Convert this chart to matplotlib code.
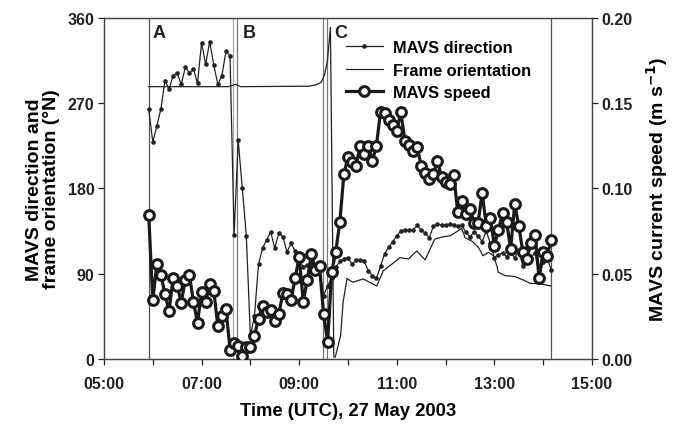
import numpy as np
import pandas as pd
import matplotlib
matplotlib.use("Agg")
import matplotlib.pyplot as plt
import matplotlib.dates as mdates
import matplotlib.lines as mlines

plt.rcParams['font.family'] = ['Liberation Sans', 'DejaVu Sans']
plt.rcParams['font.weight'] = 'bold'

day = pd.Timestamp('2003-05-27')

# MAVS samples every 5 min from 05:55 to 14:10 UTC
mavs_start = '2003-05-27 05:55'
mavs_direction = [
    264, 229, 246, 264, 294, 285, 299, 302, 290, 308,
    302, 306, 291, 334, 311, 335, 310, 290, 299, 325,
    320, 131, 231, 181, 130, 25, 45, 100, 117, 126,
    134, 117, 133, 129, 113, 122, 114, 106, 97, 99,
    101, 99, 95, 67, 77, 86, 97, 103, 106, 107,
    100, 104, 105, 103, 93, 88, 85, 98, 111, 118,
    124, 130, 135, 136, 136, 136, 141, 136, 133, 128,
    140, 143, 141, 141, 142, 141, 140, 141, 134, 129,
    134, 130, 124, 135, 122, 107, 110, 112, 108, 112,
    107, 114, 98, 110, 107, 112, 88, 102, 106, 94,
]
mavs_speed = [
    0.0845, 0.0344, 0.0557, 0.0494, 0.0381, 0.0280, 0.0473, 0.0430, 0.0330, 0.0463,
    0.0493, 0.0334, 0.0213, 0.0391, 0.0332, 0.0440, 0.0401, 0.0192, 0.0254, 0.0293,
    0.0055, 0.0094, 0.0078, 0.0016, 0.0072, 0.0072, 0.0137, 0.0235, 0.0310, 0.0278,
    0.0290, 0.0225, 0.0264, 0.0389, 0.0379, 0.0348, 0.0473, 0.0598, 0.0337, 0.0464,
    0.0614, 0.0522, 0.0545, 0.0264, 0.0101, 0.0512, 0.0629, 0.0805, 0.1085, 0.1183,
    0.1154, 0.1134, 0.1251, 0.1202, 0.1251, 0.1163, 0.1251, 0.1450, 0.1443, 0.1402,
    0.1374, 0.1339, 0.1447, 0.1280, 0.1257, 0.1222, 0.1245, 0.1134, 0.1089, 0.1056,
    0.1085, 0.1163, 0.1065, 0.1036, 0.1026, 0.1079, 0.0860, 0.0925, 0.0850, 0.0880,
    0.0800, 0.0800, 0.0974, 0.0782, 0.0825, 0.0665, 0.0757, 0.0856, 0.0805, 0.0645,
    0.0909, 0.0782, 0.0626, 0.0587, 0.0680, 0.0729, 0.0473, 0.0629, 0.0606, 0.0700,
]

# frame orientation (hours UTC, degrees)
frame_hours = [5.917, 7.55, 7.70, 7.80, 9.20, 9.35, 9.45, 9.52, 9.58, 9.64,
               9.71, 9.74, 9.85, 9.90, 9.98, 10.10, 10.31, 10.59, 10.72, 11.07,
               11.24, 11.41, 11.58, 11.78, 11.95, 12.09, 12.23, 12.33, 12.40, 12.55,
               12.67, 12.77, 12.88, 12.98, 13.05, 13.08, 13.22, 13.42, 13.59, 13.73,
               13.97, 14.17]
frame_deg = [287.5, 287.5, 290, 287.5, 288, 289.5, 292, 300, 315, 350,
             2, 2, 25, 60, 85, 81, 84.5, 77, 93, 107,
             105.6, 114, 104.5, 126.7, 129, 130, 134.4, 138, 128, 124,
             118, 109, 112.6, 109, 98.5, 91.5, 88, 87, 83.4, 80,
             79, 77]

# event markers (hours UTC)
event_lines = [5.917, 7.64, 7.73, 9.49, 9.57, 14.17]
event_colors = ['#555555', '#aaaaaa', '#777777', '#777777', '#777777', '#555555']
event_labels = ['A', 'B', 'C']
event_label_hours = [6.0, 7.84, 9.72]

mavs_time = pd.date_range(mavs_start, periods=len(mavs_speed), freq='5min')
frame_time = day + pd.to_timedelta(frame_hours, unit='h')

fig, ax = plt.subplots(figsize=(6.73, 4.27), dpi=100)
fig.subplots_adjust(left=0.1545, right=0.8796, bottom=0.157, top=0.9555)
ax2 = ax.twinx()

for h, c in zip(event_lines, event_colors):
    ax.axvline(day + pd.Timedelta(hours=h), color=c, lw=0.9, zorder=1)

ax.plot(mavs_time, mavs_direction, color='#222222', lw=0.9, marker='o', ms=2.3, zorder=3)
ax.plot(frame_time, frame_deg, color='#222222', lw=0.9, zorder=2)
ax2.plot(mavs_time, mavs_speed, color='#1a1a1a', lw=2.3, marker='o', ms=7,
         mfc='white', mec='#1a1a1a', mew=2.2, zorder=4)

for lab, h in zip(event_labels, event_label_hours):
    ax.text(day + pd.Timedelta(hours=h), 340, lab, fontsize=13, fontweight='bold',
            ha='left', va='baseline', color='#222222')

ax.set_xlim(day + pd.Timedelta(hours=5), day + pd.Timedelta(hours=15))
ax.set_ylim(0, 360)
ax2.set_ylim(0, 0.20)
ax.set_yticks([0, 90, 180, 270, 360])
ax2.set_yticks([0.0, 0.05, 0.10, 0.15, 0.20])
ax2.set_yticklabels(['0.00', '0.05', '0.10', '0.15', '0.20'])
ax.xaxis.set_major_locator(mdates.HourLocator(byhour=range(5, 16, 2)))
ax.xaxis.set_minor_locator(mdates.HourLocator())
ax.xaxis.set_major_formatter(mdates.DateFormatter('%H:%M'))

for a in (ax, ax2):
    a.tick_params(which='both', direction='out', length=4, width=0.9, labelsize=11.5,
                  colors='#222222', pad=3)
    for s in a.spines.values():
        s.set_color('#444444')
        s.set_linewidth(0.9)
ax.tick_params(axis='x', pad=8)

ax.set_xlabel('Time (UTC), 27 May 2003', fontsize=13.3, fontweight='bold', labelpad=8)
ax.set_ylabel('MAVS direction and\nframe orientation (°N)', fontsize=14, fontweight='bold',
              labelpad=5, linespacing=1.0)
ax2.set_ylabel('MAVS current speed (m s$^{-1}$)', fontsize=14, fontweight='bold', labelpad=8)

# legend
h_dir = mlines.Line2D([], [], color='#222222', lw=0.9, marker='o', ms=2.3, label='MAVS direction')
h_frame = mlines.Line2D([], [], color='#222222', lw=0.9, label='Frame orientation')
h_speed = mlines.Line2D([], [], color='#1a1a1a', lw=2.3, marker='o', ms=7, mfc='white',
                        mew=2.2, label='MAVS speed')
leg = ax2.legend(handles=[h_dir, h_frame, h_speed], loc='upper left', bbox_to_anchor=(0.496, 0.935),
                 frameon=False, fontsize=11.8, handlelength=2.25, handletextpad=0.6,
                 labelspacing=0.45, borderaxespad=0, borderpad=0)
for t in leg.get_texts():
    t.set_fontweight('bold')

fig.savefig('out.png', dpi=100)
